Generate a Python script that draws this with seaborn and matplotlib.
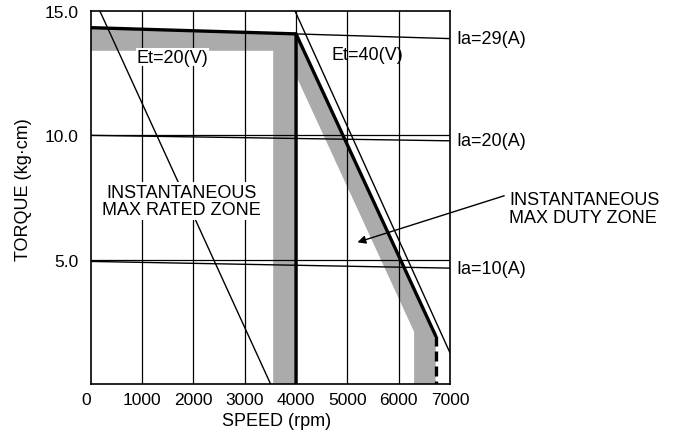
import matplotlib
matplotlib.use("Agg")
import matplotlib.pyplot as plt
import seaborn as sns

sns.set_theme(style="white")
plt.rcParams["font.family"] = ["Liberation Sans", "DejaVu Sans"]

# Terminal-voltage limit lines: speed (rpm) vs torque (kg·cm)
et20_speed = [178, 3504]
et20_torque = [15.0, 0.0]
et40_speed = [3980, 7000]
et40_torque = [15.0, 1.25]

# Armature-current lines
ia_speed = [0, 7000]
ia29_torque = [14.33, 13.89]
ia20_torque = [10.0, 9.78]
ia10_torque = [4.93, 4.66]
ia_labels = ["Ia=29(A)", "Ia=20(A)", "Ia=10(A)"]

# Instantaneous max rated zone (boundary and shaded band)
rated_edge_speed = [0, 4000, 4000]
rated_edge_torque = [14.33, 14.08, 0.0]
rated_band_speed = [0, 4000, 4000, 3555, 3555, 0]
rated_band_torque = [14.33, 14.08, 0.0, 0.0, 13.4, 13.4]

# Instantaneous max duty zone (boundary and shaded band)
duty_edge_speed = [4000, 6720]
duty_edge_torque = [14.08, 1.94]
duty_drop_speed = [6720, 6720]
duty_drop_torque = [1.94, 0.0]
duty_band_speed = [4000, 6720, 6720, 6300, 6300, 4000]
duty_band_torque = [14.08, 1.94, 0.0, 0.0, 2.1, 12.4]

speed_ticks = [0, 1000, 2000, 3000, 4000, 5000, 6000, 7000]
torque_ticks = [5.0, 10.0, 15.0]

fig = plt.figure(figsize=(6.73, 4.35), dpi=100)
ax = fig.add_axes([0.1348, 0.1149, 0.5339, 0.8575])
ax.set_facecolor("white")

band_gray = "#ababab"
ax.fill(rated_band_speed, rated_band_torque, color=band_gray, lw=0, zorder=1)
ax.fill(duty_band_speed, duty_band_torque, color=band_gray, lw=0, zorder=1)

# grid
for s in speed_ticks[1:-1]:
    ax.axvline(s, color="black", lw=0.9, zorder=2)
for t in torque_ticks[:-1]:
    ax.axhline(t, color="black", lw=0.9, zorder=2)

thin = dict(color="black", lw=1.0, estimator=None, sort=False, zorder=3)
sns.lineplot(x=et20_speed, y=et20_torque, ax=ax, **thin)
sns.lineplot(x=et40_speed, y=et40_torque, ax=ax, **thin)
for tq in (ia29_torque, ia20_torque, ia10_torque):
    sns.lineplot(x=ia_speed, y=tq, ax=ax, **thin)

thick = dict(color="black", lw=2.4, estimator=None, sort=False, zorder=4)
sns.lineplot(x=rated_edge_speed, y=rated_edge_torque, ax=ax, **thick)
sns.lineplot(x=duty_edge_speed, y=duty_edge_torque, ax=ax, **thick)
sns.lineplot(x=duty_drop_speed, y=duty_drop_torque, ax=ax,
             linestyle=(0, (3, 1.5)), **thick)

ax.set_xlim(0, 7000)
ax.set_ylim(0, 15)
ax.set_xticks(speed_ticks)
ax.set_xticklabels([str(s) for s in speed_ticks])
ax.set_yticks(torque_ticks)
ax.set_yticklabels([f"{t:.1f}" for t in torque_ticks])
ax.get_xticklabels()[0].set_ha("right")
ax.tick_params(axis="both", length=0, labelsize=12.5, colors="black")
ax.tick_params(axis="x", pad=6)
ax.tick_params(axis="y", pad=9)
for sp in ax.spines.values():
    sp.set_color("black")
    sp.set_linewidth(1.2)
    sp.set_zorder(5)

ax.set_xlabel("SPEED (rpm)", fontsize=13, color="black")
ax.set_ylabel("TORQUE (kg·cm)", fontsize=13, color="black")
ax.xaxis.set_label_coords(0.518, -0.074)
ax.yaxis.set_label_coords(-0.163, 0.523)

txt = dict(fontsize=13, color="black", zorder=6)
ax.text(1600, 13.15, "Et=20(V)", ha="center", va="center",
        bbox=dict(facecolor="white", edgecolor="none", pad=0.5), **txt)
ax.text(5390, 13.27, "Et=40(V)", ha="center", va="center", **txt)
ax.text(1770, 7.36, "INSTANTANEOUS\nMAX RATED ZONE", ha="center", va="center",
        linespacing=1.05, bbox=dict(facecolor="white", edgecolor="none", pad=1.5), **txt)

for label, tq in zip(ia_labels, (ia29_torque, ia20_torque, ia10_torque)):
    ax.text(7130, tq[-1], label, ha="left", va="center", clip_on=False, **txt)

ax.annotate("", xy=(5196, 5.70), xytext=(8055, 7.57), annotation_clip=False,
            arrowprops=dict(arrowstyle="-|>", color="black", lw=1.0,
                            mutation_scale=12, shrinkA=0, shrinkB=0), zorder=6)
ax.text(8150, 7.07, "INSTANTANEOUS\nMAX DUTY ZONE", ha="left", va="center",
        linespacing=1.05, clip_on=False, **txt)

fig.savefig("out.png", dpi=100, facecolor="white")
